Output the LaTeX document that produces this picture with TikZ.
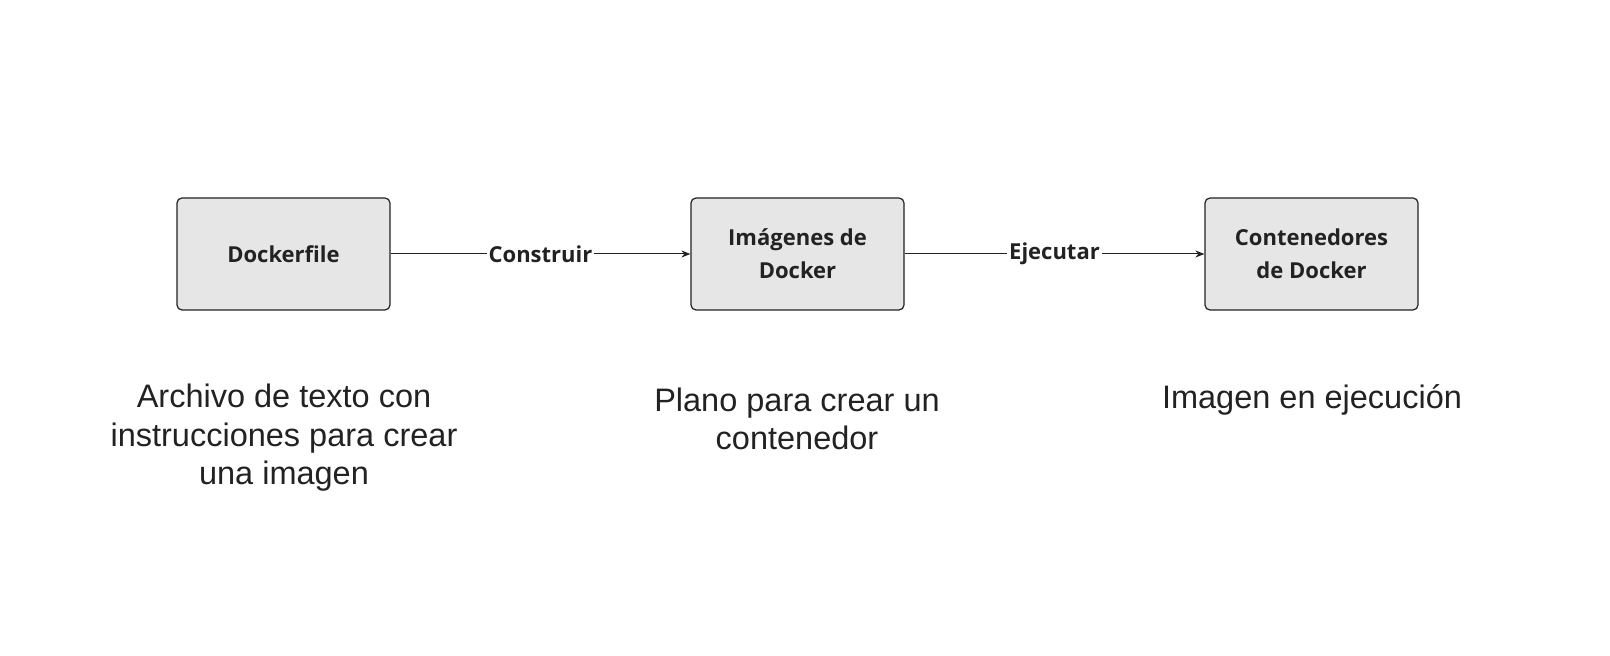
\documentclass[tikz,border=0pt]{standalone}
\usepackage{fontspec}
\setmainfont{Open Sans}
\newfontfamily\descfont{Liberation Sans}
\usetikzlibrary{arrows.meta}
\definecolor{boxfill}{HTML}{E6E6E6}
\definecolor{ink}{HTML}{222222}
\tikzset{
 box/.style={draw=ink,line width=1.2pt,fill=boxfill,rounded corners=5pt,minimum width=213pt,minimum height=112pt,align=center,font=\fontsize{22}{33}\selectfont\bfseries,text=ink},
 desc/.style={align=center,font=\descfont\fontsize{32.5}{38.5}\selectfont,text=ink},
 conn/.style={draw=ink,line width=1pt,-{Stealth[length=9pt,width=7pt]}},
 lab/.style={fill=white,inner sep=2pt,font=\fontsize{22}{26}\selectfont\bfseries,text=ink}
}
\begin{document}
\begin{tikzpicture}[x=1pt,y=1pt]
\fill[white] (0,0) rectangle (1610,656);
\useasboundingbox (0,0) rectangle (1610,656);
\node[box] (a) at (283.5,402) {Dockerfile};
\node[box] (b) at (797.5,402) {Imágenes de\\Docker};
\node[box] (c) at (1311.5,402) {Contenedores\\de Docker};
\draw[conn] (a) -- node[lab] (l1) {Construir} (b);
\draw[conn] (b) -- node[lab] (l2) {Ejecutar} (c);
\node[desc] (da) at (284,218) {Archivo de texto con\\instrucciones para crear\\una imagen};
\node[desc] (db) at (797,237) {Plano para crear un\\contenedor};
\node[desc] (dc) at (1312,256) {Imagen en ejecución};
\end{tikzpicture}
\end{document}
